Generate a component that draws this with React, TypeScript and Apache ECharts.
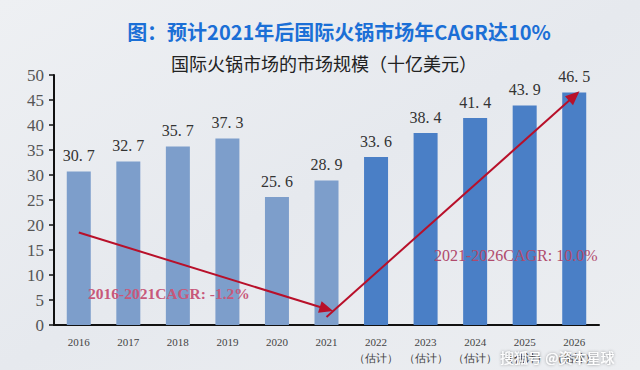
import React, { useEffect, useRef } from "react";
import * as echarts from "echarts";

const categories = ["2016", "2017", "2018", "2019", "2020", "2021", "2022\n（估计）", "2023\n（估计）", "2024\n（估计）", "2025\n（估计）", "2026\n（估计）"];
const marketSize = [30.7, 32.7, 35.7, 37.3, 25.6, 28.9, 33.6, 38.4, 41.4, 43.9, 46.5];
const isForecast = [false, false, false, false, false, false, true, true, true, true, true];
const yTicks = { min: 0, max: 50, interval: 5 };
const titleText = "图：预计2021年后国际火锅市场年CAGR达10%";
const subtitleText = "国际火锅市场的市场规模（十亿美元）";
const cagrLeft = "2016-2021CAGR: -1.2%";
const cagrRight = "2021-2026CAGR: 10.0%";
// arrow endpoints in data terms: [category index, value]
const arrowDown = [[-0.08, 18.5], [5.05, 3.2]];
const arrowUp = [[5.2, 1.6], [10.25, 45.8]];

export default function App() {
  const ref = useRef<HTMLDivElement>(null);
  useEffect(() => {
    if (!ref.current) return;
    const chart = echarts.init(ref.current, null, { renderer: "svg" });
    const serif = "'Liberation Serif', 'DejaVu Serif', serif";
    const arrowColor = "#b8102a";
    chart.setOption({
      animation: false,
      backgroundColor: {
        type: "linear", x: 0, y: 0, x2: 1, y2: 1,
        colorStops: [
          { offset: 0, color: "#eef0f3" },
          { offset: 0.5, color: "#e6e9ee" },
          { offset: 1, color: "#eceef1" },
        ],
      },
      title: [
        {
          text: titleText, left: 334, textAlign: "center", top: 16,
          textStyle: { color: "#1b6fd6", fontSize: 20, fontWeight: "bold", fontFamily: "'Noto Sans CJK SC', sans-serif" },
        },
        {
          text: subtitleText, left: 319, textAlign: "center", top: 49,
          textStyle: { color: "#222", fontSize: 18, fontWeight: "normal", fontFamily: "'Noto Sans CJK SC', sans-serif" },
        },
      ],
      grid: { left: 54, right: 41, top: 75, bottom: 45, containLabel: false },
      xAxis: {
        type: "category",
        data: categories,
        axisLine: { lineStyle: { color: "#111", width: 2 } },
        axisTick: { show: false },
        axisLabel: { color: "#444", fontSize: 11, fontFamily: serif, margin: 9, lineHeight: 16, interval: 0 },
      },
      yAxis: {
        type: "value",
        min: yTicks.min, max: yTicks.max, interval: yTicks.interval,
        axisLine: { show: true, lineStyle: { color: "#111", width: 2 } },
        axisTick: { show: true, length: 5, lineStyle: { color: "#111", width: 1.5 } },
        splitLine: { show: false },
        axisLabel: { color: "#555", fontSize: 17, fontFamily: serif, margin: 10 },
      },
      series: [
        {
          type: "bar",
          barWidth: 24,
          data: marketSize.map((v, i) => ({
            value: v,
            itemStyle: { color: isForecast[i] ? "#4a7fc6" : "#7d9ecb" },
          })),
          label: {
            show: true, position: "top", distance: 8,
            color: "#333", fontSize: 16, fontFamily: serif,
            formatter: (p: any) => String(p.value).replace(".", ". "),
          },
          markLine: {
            silent: true,
            symbol: ["none", "triangle"],
            symbolSize: [12, 14],
            label: { show: false },
            lineStyle: { color: arrowColor, width: 2, type: "solid" },
            data: [
              [{ coord: arrowDown[0] }, { coord: arrowDown[1] }],
              [{ coord: arrowUp[0] }, { coord: arrowUp[1] }],
            ],
          },
        },
      ],
      graphic: [
        {
          type: "text", left: 88, top: 285, z: 100,
          style: { text: cagrLeft, fill: "#c8587a", fontSize: 15.5, fontFamily: serif, fontWeight: "bold" },
        },
        {
          type: "text", left: 434, top: 247, z: 100,
          style: { text: cagrRight, fill: "#b04a6c", fontSize: 16, fontFamily: serif },
        },
        {
          type: "text", left: 500, top: 350, z: 100,
          style: { text: "搜狐号 @资本星球", fill: "#ffffff", fontSize: 14, fontFamily: "'Noto Sans CJK SC', sans-serif", textShadowColor: "rgba(0,0,0,0.45)", textShadowBlur: 3 },
        },
      ],
    });
    return () => chart.dispose();
  }, []);
  return <div ref={ref} style={{ position: "absolute", left: 0, top: 0, width: 640, height: 370 }} />;
}
